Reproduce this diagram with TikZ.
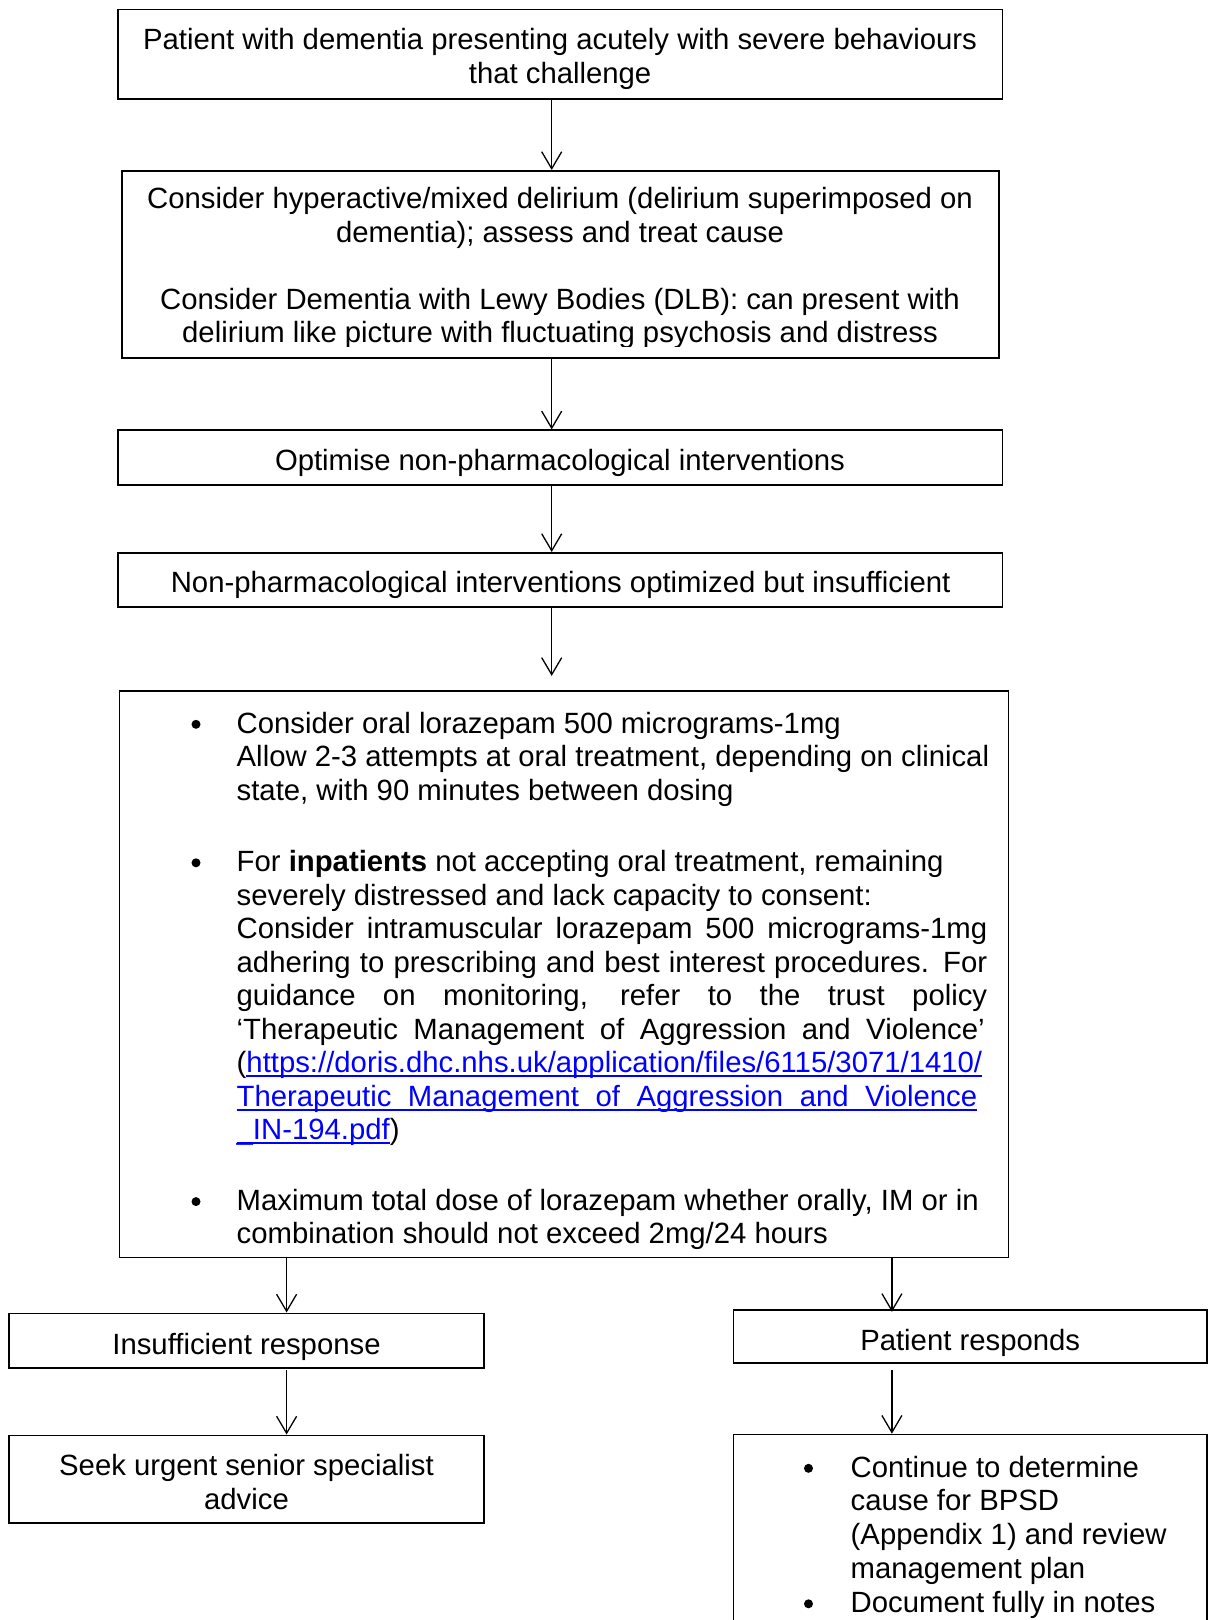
\documentclass[tikz,border=0pt]{standalone}
\usepackage{fontspec}
\setmainfont{Liberation Sans}
\usetikzlibrary{arrows.meta}
\definecolor{linkblue}{RGB}{0,0,255}
\newsavebox{\ulbox}
\newcommand{\ulink}[1]{\sbox{\ulbox}{\color{linkblue}#1}\rlap{\color{linkblue}\rule[-4.2pt]{\wd\ulbox}{2.1pt}}\usebox{\ulbox}}
\begin{document}
\begin{tikzpicture}[x=1pt,y=-1pt,
  box/.style={draw=black, line width=1.6pt, inner sep=0pt},
  txt/.style={inner sep=0pt, anchor=base, font=\fontsize{29.3}{33.6}\selectfont},
  ltxt/.style={txt, anchor=base west},
  conn/.style={line width=1.3pt, -{Straight Barb[length=17pt,width=20pt]}},
  bul/.style={fill=black}]
\useasboundingbox (0,0) rectangle (1208,1620);
% axes for connectors
\coordinate (ax) at (551.7,0);
\coordinate (axl) at (286.6,0);
\coordinate (axr) at (891.9,0);
% boxes
\node[box, minimum width=884.4pt, minimum height=89.4pt] (b1) at (560.1,54.2) {};
\node[box, minimum width=877.5pt, minimum height=187.4pt] (b2) at (560.45,264.5) {};
\node[box, minimum width=884.4pt, minimum height=55pt] (b3) at (560.1,457.7) {};
\node[box, minimum width=884.4pt, minimum height=54.2pt] (b4) at (560.1,579.9) {};
\node[box, minimum width=889.1pt, minimum height=566.5pt] (b5) at (563.95,974.25) {};
\node[box, minimum width=474.6pt, minimum height=54.4pt] (b6) at (246.5,1340.5) {};
\node[box, minimum width=473.6pt, minimum height=52.7pt] (b7) at (970.2,1336.35) {};
\node[box, minimum width=474.6pt, minimum height=87.4pt] (b8) at (246.5,1479) {};
\node[box, minimum width=473.6pt, minimum height=265.5pt] (b9) at (970.2,1567.25) {};
% box 1 text
\node[txt] (t1a) at (560.1,49.8) {Patient with dementia presenting acutely with severe behaviours};
\node[txt] (t1b) at (560.1,83.4) {that challenge};
% box 2 text
\begin{scope}
\clip (121.7,170.8) rectangle (999.2,346.7);
\node[txt] (t2a) at (560,208.5) {Consider hyperactive/mixed delirium (delirium superimposed on};
\node[txt] (t2b) at (560,242) {dementia); assess and treat cause};
\node[txt] (t2c) at (560,309) {Consider Dementia with Lewy Bodies (DLB): can present with};
\node[txt] (t2d) at (560,342.5) {delirium like picture with fluctuating psychosis and distress};
\end{scope}
% box 3, 4 text
\node[txt] (t3) at (560,470) {Optimise non-pharmacological interventions};
\node[txt] (t4) at (560.6,592) {Non-pharmacological interventions optimized but insufficient};
% box 5 text
\fill[bul] (196,724.3) circle[radius=4.5pt];
\node[ltxt] (t5a) at (236.5,733) {Consider oral lorazepam 500 micrograms-1mg};
\node[ltxt] (t5b) at (236.5,766.6) {Allow 2-3 attempts at oral treatment, depending on clinical};
\node[ltxt] (t5c) at (236.5,800.2) {state, with 90 minutes between dosing};
\fill[bul] (196,862.8) circle[radius=4.5pt];
\node[ltxt] (t5d) at (236.5,871.5) {For \textbf{inpatients} not accepting oral treatment, remaining};
\node[ltxt] (t5e) at (236.5,905.06) {severely distressed and lack capacity to consent:};
\node[ltxt] (t5f) at (236.5,938.62) {\makebox[750.5pt][s]{Consider intramuscular lorazepam 500 micrograms-1mg}};
\node[ltxt] (t5g) at (236.5,972.18) {\makebox[750.5pt][s]{adhering to prescribing and best interest procedures. For}};
\node[ltxt] (t5h) at (236.5,1005.74) {\makebox[750.5pt][s]{guidance on monitoring, refer to the trust policy}};
\node[ltxt] (t5i) at (236.5,1039.3) {\makebox[748pt][s]{‘Therapeutic Management of Aggression and Violence’}};
\node[ltxt] (t5j) at (236.5,1072.86) {(\ulink{https://doris.dhc.nhs.uk/application/files/6115/3071/1410/}};
\node[ltxt] (t5k) at (236.5,1106.42) {\ulink{\makebox[740.5pt][s]{Therapeutic Management of Aggression and Violence}}};
\node[ltxt] (t5l) at (236.5,1139.98) {\ulink{\_IN-194.pdf})};
\fill[bul] (196,1201.6) circle[radius=4.5pt];
\node[ltxt] (t5m) at (236.5,1210.3) {Maximum total dose of lorazepam whether orally, IM or in};
\node[ltxt] (t5n) at (236.5,1243.9) {combination should not exceed 2mg/24 hours};
% box 6, 7, 8 text
\node[txt] (t6) at (246.5,1354) {Insufficient response};
\node[txt] (t7) at (970.2,1350) {Patient responds};
\node[txt] (t8a) at (246.5,1475.5) {Seek urgent senior specialist};
\node[txt] (t8b) at (246.5,1509) {advice};
% box 9 text
\fill[bul] (808.5,1468.3) circle[radius=4.5pt];
\node[ltxt] (t9a) at (850.5,1477) {Continue to determine};
\node[ltxt] (t9b) at (850.5,1510.7) {cause for BPSD};
\node[ltxt] (t9c) at (850.5,1544.4) {(Appendix 1) and review};
\node[ltxt] (t9d) at (850.5,1578) {management plan};
\fill[bul] (808.5,1603.8) circle[radius=4.5pt];
\node[ltxt] (t9e) at (850.5,1612.5) {Document fully in notes};
% connectors
\draw[conn] (b1.south -| ax) -- (b2.north -| ax);
\draw[conn] (b2.south -| ax) -- (b3.north -| ax);
\draw[conn] (b3.south -| ax) -- (b4.north -| ax);
\draw[conn, shorten >=14.3pt] (b4.south -| ax) -- (b5.north -| ax);
\draw[conn] (b5.south -| axl) -- (b6.north -| axl);
\draw[conn, shorten >=-2.7pt] (b5.south -| axr) -- (b7.north -| axr);
\draw[conn, shorten <=1.6pt] (b6.south -| axl) -- (b8.north -| axl);
\draw[conn, shorten <=6.6pt] (b7.south -| axr) -- (b9.north -| axr);
\end{tikzpicture}
\end{document}
